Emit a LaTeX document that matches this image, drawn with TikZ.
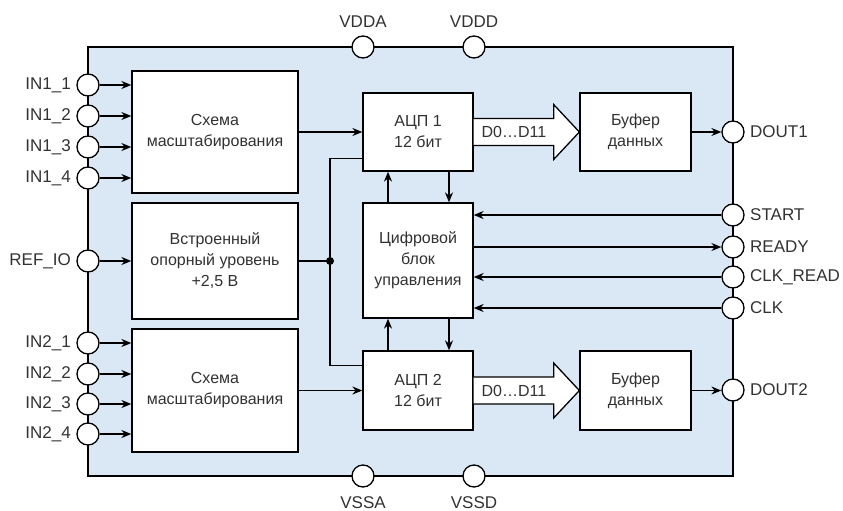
\documentclass[tikz,border=0pt]{standalone}
\usepackage{fontspec}
\setmainfont{Liberation Sans}
\usetikzlibrary{positioning,arrows.meta,calc}
\definecolor{chipfill}{RGB}{218,232,245}
\definecolor{txtgray}{RGB}{50,50,50}

\tikzset{
    blk/.style={draw, fill=white, line width=1.3pt, align=center, inner sep=0pt, text=txtgray, font=\fontsize{16}{21}\selectfont},
    pin/.style={draw, fill=white, circle, minimum size=22pt, inner sep=0pt, line width=1.3pt},
    sig/.style={line width=1.3pt, -{Stealth[length=10pt,width=8pt]}},
    wire/.style={line width=1.3pt},
    lbl/.style={font=\fontsize{17}{20}\selectfont, text=txtgray}
}

\begin{document}
\begin{tikzpicture}[x=1pt, y=-1pt]
    \useasboundingbox (0,0) rectangle (843,511);
    \draw[wire, fill=chipfill] (88,47) rectangle (733,476);
    % blocks
    \node[blk, minimum width=166pt, minimum height=122pt] (scale1) at (215,132) {Схема\\масштабирования};
    \node[blk, minimum width=166pt, minimum height=116pt] (refbox) at (215,261) {Встроенный\\опорный уровень\\+2,5 В};
    \node[blk, minimum width=166pt, minimum height=123pt] (scale2) at (215,390.5) {Схема\\масштабирования};
    \node[blk, minimum width=110pt, minimum height=78pt] (adc1) at (418,132) {АЦП 1\\12 бит};
    \node[blk, minimum width=110pt, minimum height=115pt] (ctrl) at (418,260.5) {Цифровой\\блок\\управления};
    \node[blk, minimum width=110pt, minimum height=79pt] (adc2) at (418,390.5) {АЦП 2\\12 бит};
    \node[blk, minimum width=111pt, minimum height=78pt] (buf1) at (635.5,132) {Буфер\\данных};
    \node[blk, minimum width=111pt, minimum height=79pt] (buf2) at (635.5,390.5) {Буфер\\данных};
    % pins
    \foreach \n/\y in {1/85,2/116,3/147,4/178}
        \node[pin, label={[lbl, label distance=2pt]left:IN1\_\n}] (inA\n) at (88,\y) {};
    \foreach \n/\y in {1/343,2/374,3/404,4/434}
        \node[pin, label={[lbl, label distance=2pt]left:IN2\_\n}] (inB\n) at (88,\y) {};
    \node[pin, label={[lbl, label distance=2pt]left:REF\_IO}] (refio) at (88,261) {};
    \node[pin, label={[lbl, label distance=4pt]above:VDDA}] (vdda) at (363,47) {};
    \node[pin, label={[lbl, label distance=4pt]above:VDDD}] (vddd) at (474,47) {};
    \node[pin, label={[lbl, label distance=5pt]below:VSSA}] (vssa) at (363,476) {};
    \node[pin, label={[lbl, label distance=5pt]below:VSSD}] (vssd) at (474,476) {};
    \node[pin, label={[lbl, label distance=2pt]right:DOUT1}] (dout1) at (733,132) {};
    \node[pin, label={[lbl, label distance=2pt]right:START}] (start) at (733,215) {};
    \node[pin, label={[lbl, label distance=2pt]right:READY}] (ready) at (733,247) {};
    \node[pin, label={[lbl, label distance=2pt]right:CLK\_READ}] (clkrd) at (733,277) {};
    \node[pin, label={[lbl, label distance=2pt]right:CLK}] (clk) at (733,308) {};
    \node[pin, label={[lbl, label distance=2pt]right:DOUT2}] (dout2) at (733,390) {};
    % inputs
    \foreach \n in {1,...,4} {
        \draw[sig] (inA\n) -- (inA\n -| scale1.west);
        \draw[sig] (inB\n) -- (inB\n -| scale2.west);
    }
    \draw[sig] (refio) -- (refio -| refbox.west);
    \draw[sig] (scale1.east) -- (adc1.west);
    \draw[sig] (scale2.east) -- (scale2.east -| adc2.west);
    % reference
    \coordinate (jn) at (330,261);
    \draw[wire] (refbox.east) -- (jn);
    \draw[wire] (jn) |- ($(adc1.south west)+(0,-13)$);
    \draw[wire] (jn) |- ($(adc2.north west)+(0,15)$);
    \fill (jn) circle (4pt);
    % control
    \draw[sig] ($(ctrl.north)+(-30,0)$) -- ($(adc1.south)+(-30,0)$);
    \draw[sig] ($(adc1.south)+(31,0)$) -- ($(ctrl.north)+(31,0)$);
    \draw[sig] ($(adc2.north)+(-30,0)$) -- ($(ctrl.south)+(-30,0)$);
    \draw[sig] ($(ctrl.south)+(31,0)$) -- ($(adc2.north)+(31,0)$);
    \draw[sig] (start) -- (start -| ctrl.east);
    \draw[sig] (ready -| ctrl.east) -- (ready);
    \draw[sig] (clkrd) -- (clkrd -| ctrl.east);
    \draw[sig] (clk) -- (clk -| ctrl.east);
    % data buses
    \draw[wire, fill=white] ($(adc1.east)+(0,-13.5)$) -- ++(80,0) -- ++(0,-14) -- (buf1.west) -- ($(adc1.east)+(80,27.5)$) -- ++(0,-14) -- ($(adc1.east)+(0,13.5)$);
    \draw[wire, fill=white] ($(adc2.east)+(0,-13.5)$) -- ++(80,0) -- ++(0,-14) -- (buf2.west) -- ($(adc2.east)+(80,27.5)$) -- ++(0,-14) -- ($(adc2.east)+(0,13.5)$);
    \node[lbl, font=\fontsize{16}{20}\selectfont] (bus1) at (514,132) {D0…D11};
    \node[lbl, font=\fontsize{16}{20}\selectfont] (bus2) at (514,390.5) {D0…D11};
    \draw[sig] (buf1) -- (dout1);
    \draw[sig] (buf2.east) -- (buf2.east -| dout2.west);
\end{tikzpicture}
\end{document}
